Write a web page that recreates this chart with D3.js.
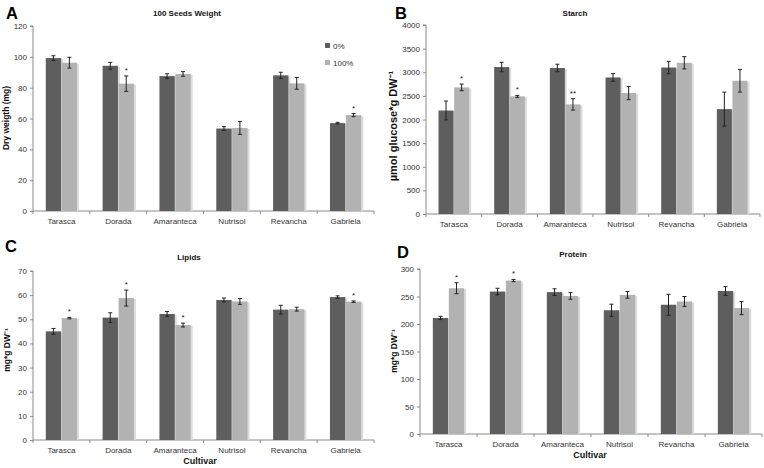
<!DOCTYPE html>
<html><head><meta charset="utf-8">
<script src="https://cdn.jsdelivr.net/npm/d3@7"></script>
<style>body{margin:0;background:#fff;} svg{display:block;font-family:Arial,"Liberation Sans",sans-serif;}</style>
</head><body>
<svg id="chart" width="764" height="468"></svg>
<script>
const categories = ["Tarasca","Dorada","Amaranteca","Nutrisol","Revancha","Gabriela"];
const seriesNames = ["0%","100%"];
const colors = ["#5e5e5e","#b2b2b2"];

// Panel A: 100 Seeds Weight
const seedW0 = [99.2, 94.2, 87.5, 53.5, 88.0, 57.0];
const seedW0Err = [1.5, 2.2, 1.5, 1.2, 2.0, 0.5];
const seedW100 = [96.2, 82.6, 88.9, 53.9, 82.8, 62.2];
const seedW100Err = [3.5, 5.0, 1.5, 4.2, 3.8, 1.0];
const seedWSig = ["", "*", "", "", "", "*"];

// Panel B: Starch
const starch0 = [2190, 3110, 3090, 2890, 3100, 2220];
const starch0Err = [200, 100, 80, 80, 130, 360];
const starch100 = [2680, 2490, 2320, 2560, 3200, 2820];
const starch100Err = [70, 20, 120, 140, 130, 240];
const starchSig = ["*", "*", "**", "", "", ""];

// Panel C: Lipids
const lipids0 = [45.0, 50.7, 52.2, 58.0, 54.0, 59.2];
const lipids0Err = [1.2, 2.0, 1.0, 0.8, 1.8, 0.5];
const lipids100 = [50.5, 58.8, 47.6, 57.4, 54.2, 57.3];
const lipids100Err = [0.3, 3.3, 0.8, 1.2, 0.8, 0.3];
const lipidsSig = ["*", "*", "*", "", "", "*"];

// Panel D: Protein
const protein0 = [211, 259, 258, 225, 235, 260];
const protein0Err = [3, 6, 6, 11, 19, 8];
const protein100 = [265, 279, 251, 253, 241, 229];
const protein100Err = [10, 2, 6, 6, 9, 12];
const proteinSig = ["*", "*", "", "", "", ""];

const seedTicks = [0,20,40,60,80,100,120];
const starchTicks = [0,500,1000,1500,2000,2500,3000,3500,4000];
const lipidTicks = [0,10,20,30,40,50,60,70];
const proteinTicks = [0,50,100,150,200,250,300];

const svg = d3.select("#chart");
const FONT = "Arial, Liberation Sans, sans-serif";

const panels = [
  {label:"A", title:"100 Seeds Weight", ylab:"Dry weigth (mg)", v0:seedW0, e0:seedW0Err, v1:seedW100, e1:seedW100Err, sig:seedWSig, ticks:seedTicks,
   x0:33, x1:374, yT:26, yZ:211, labX:6, labY:19, titleX:187, titleY:16, ylabX:7, ylabY:118, ylabSize:8.5, xlab:null, legend:true},
  {label:"B", title:"Starch", ylab:"µmol glucose*g DW⁻¹", v0:starch0, e0:starch0Err, v1:starch100, e1:starch100Err, sig:starchSig, ticks:starchTicks,
   x0:426, x1:760, yT:25, yZ:214, labX:395, labY:19, titleX:575, titleY:16, ylabX:394, ylabY:126, ylabSize:11, xlab:null},
  {label:"C", title:"Lipids", ylab:"mg*g DW⁻¹", v0:lipids0, e0:lipids0Err, v1:lipids100, e1:lipids100Err, sig:lipidsSig, ticks:lipidTicks,
   x0:33, x1:374, yT:271, yZ:440, labX:5, labY:252, titleX:189, titleY:260, ylabX:8, ylabY:350, ylabSize:8.5, xlab:{x:200, y:464}},
  {label:"D", title:"Protein", ylab:"mg*g DW⁻¹", v0:protein0, e0:protein0Err, v1:protein100, e1:protein100Err, sig:proteinSig, ticks:proteinTicks,
   x0:420, x1:762, yT:269, yZ:434, labX:397, labY:258, titleX:573, titleY:257, ylabX:395, ylabY:351, ylabSize:8.5, xlab:{x:590, y:458}}
];

panels.forEach(p => {
  const g = svg.append("g");
  const maxV = p.ticks[p.ticks.length-1];
  const y = d3.scaleLinear().domain([0, maxV]).range([p.yZ, p.yT]);
  const x = d3.scaleBand().domain(categories).range([p.x0, p.x1]).padding(0);
  const bw = x.bandwidth();
  const xs = d3.scaleBand().domain(seriesNames).range([bw*0.225, bw*0.775]).paddingInner(0.04);

  // y axis
  const yAxis = d3.axisLeft(y).tickValues(p.ticks).tickSize(3).tickPadding(3).tickFormat(d3.format("d"));
  const ya = g.append("g").attr("transform", `translate(${p.x0},0)`).call(yAxis);
  ya.select(".domain").attr("stroke","#8a8a8a").attr("d", `M-3,${p.yT}H0V${p.yZ}`);
  ya.selectAll(".tick line").attr("stroke","#8a8a8a");
  ya.selectAll(".tick text").attr("fill","#333").attr("font-size","8px").attr("font-family",FONT);

  // x axis
  const xa = g.append("g").attr("transform", `translate(0,${p.yZ})`)
    .call(d3.axisBottom(x).tickSize(0).tickPadding(7));
  xa.select(".domain").attr("stroke","#8a8a8a").attr("d", `M${p.x0},0H${p.x1}`);
  xa.selectAll(".tick text").attr("fill","#333").attr("font-size","8px").attr("font-family",FONT);
  // boundary ticks
  g.selectAll(".bt").data(d3.range(categories.length+1)).join("line")
    .attr("x1", i => p.x0 + i*bw).attr("x2", i => p.x0 + i*bw)
    .attr("y1", p.yZ).attr("y2", p.yZ+3).attr("stroke","#8a8a8a");

  const data = [];
  categories.forEach((c,i) => {
    data.push({c, s:"0%", v:p.v0[i], e:p.e0[i], k:0});
    data.push({c, s:"100%", v:p.v1[i], e:p.e1[i], k:1, sig:p.sig[i]});
  });

  // shadows
  g.selectAll(".sh").data(data).join("rect")
    .attr("x", d => x(d.c)+xs(d.s)+2).attr("y", d => y(d.v)+1)
    .attr("width", xs.bandwidth()).attr("height", d => p.yZ - y(d.v) - 1)
    .attr("fill","#dcdcdc");
  // bars
  g.selectAll(".bar").data(data).join("rect")
    .attr("x", d => x(d.c)+xs(d.s)).attr("y", d => y(d.v))
    .attr("width", xs.bandwidth()).attr("height", d => p.yZ - y(d.v))
    .attr("fill", d => colors[d.k]);
  // error bars
  const eb = g.selectAll(".eb").data(data).join("g");
  const cx = d => x(d.c)+xs(d.s)+xs.bandwidth()/2;
  eb.append("line").attr("x1",cx).attr("x2",cx).attr("y1",d=>y(d.v+d.e)).attr("y2",d=>y(d.v-d.e)).attr("stroke","#222").attr("stroke-width",1);
  eb.append("line").attr("x1",d=>cx(d)-2).attr("x2",d=>cx(d)+2).attr("y1",d=>y(d.v+d.e)).attr("y2",d=>y(d.v+d.e)).attr("stroke","#222");
  eb.append("line").attr("x1",d=>cx(d)-2).attr("x2",d=>cx(d)+2).attr("y1",d=>y(d.v-d.e)).attr("y2",d=>y(d.v-d.e)).attr("stroke","#222");
  // significance
  g.selectAll(".sig").data(data.filter(d => d.sig)).join("text")
    .attr("x", cx).attr("y", d => y(d.v+d.e)-3)
    .attr("text-anchor","middle").attr("font-size","8px").attr("fill","#222").attr("font-family",FONT)
    .text(d => d.sig);

  // panel label
  g.append("text").attr("x", p.labX).attr("y", p.labY).attr("font-size","16.5px").attr("font-weight","bold")
    .attr("font-family",FONT).attr("fill","#000").text(p.label);
  // title
  g.append("text").attr("x", p.titleX).attr("y", p.titleY).attr("text-anchor","middle").attr("font-family",FONT)
    .attr("font-size","8px").attr("font-weight","bold").attr("fill","#111").text(p.title);
  // y label
  g.append("text").attr("transform", `translate(${p.ylabX},${p.ylabY}) rotate(-90)`).attr("font-family",FONT)
    .attr("text-anchor","middle").attr("dominant-baseline","middle").attr("font-size",p.ylabSize+"px").attr("font-weight","bold").attr("fill","#111").text(p.ylab);
  if (p.xlab) {
    g.append("text").attr("x", p.xlab.x).attr("y", p.xlab.y).attr("text-anchor","middle").attr("font-family",FONT)
      .attr("font-size","9px").attr("font-weight","bold").attr("fill","#111").text("Cultivar");
  }
  if (p.legend) {
    const lg = g.append("g");
    seriesNames.forEach((s,i) => {
      lg.append("rect").attr("x", 325).attr("y", 43 + i*17).attr("width",5).attr("height",5).attr("fill", colors[i]);
      lg.append("text").attr("x", 333).attr("y", 48.5 + i*17).attr("font-size","8px").attr("font-family",FONT).attr("fill","#333").text(s);
    });
  }
});
</script>
</body></html>
